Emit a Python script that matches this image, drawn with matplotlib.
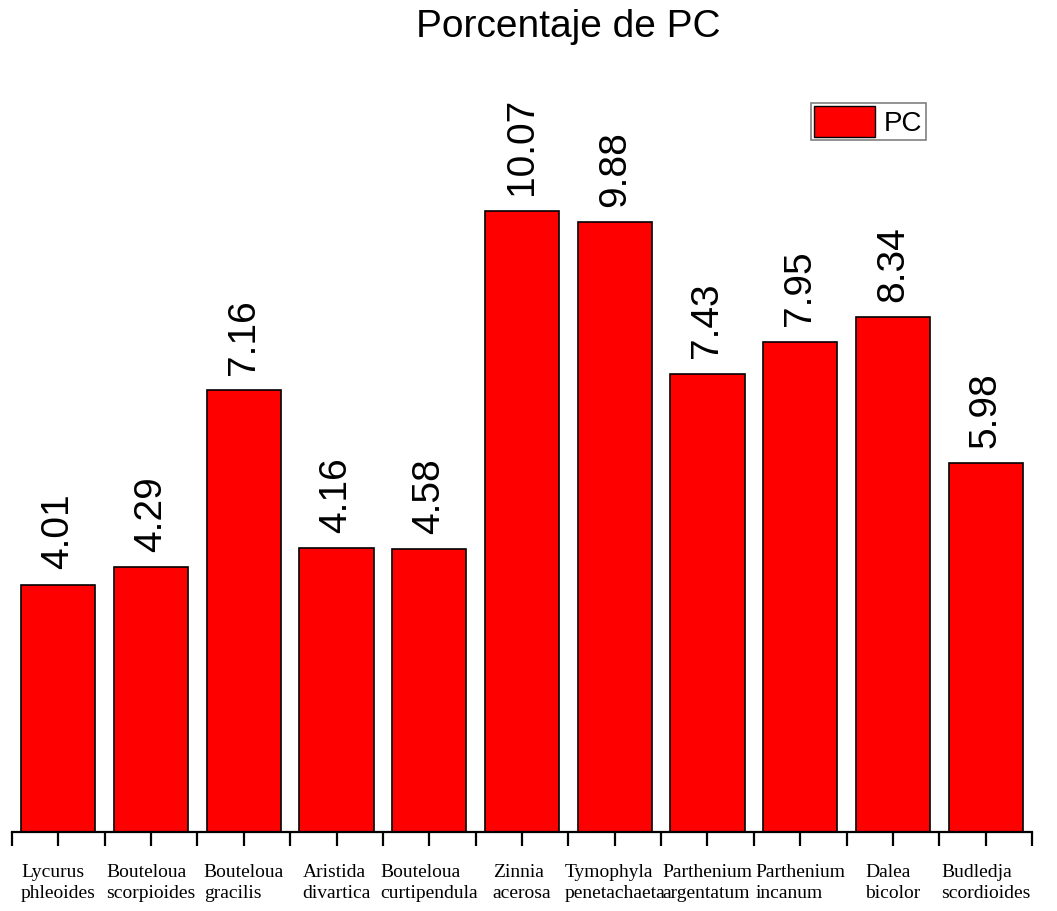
import matplotlib
matplotlib.use("Agg")
import matplotlib.pyplot as plt
from matplotlib.patches import Patch

categories = ["Lycurus\nphleoides", "Bouteloua\nscorpioides", "Bouteloua\ngracilis",
              "Aristida\ndivartica", "Bouteloua\ncurtipendula", "Zinnia\nacerosa",
              "Tymophyla\npenetachaeta", "Parthenium\nargentatum", "Parthenium\nincanum",
              "Dalea\nbicolor", "Budledja\nscordioides"]
bar_heights = [4.01, 4.29, 7.16, 4.60, 4.58, 10.07, 9.88, 7.43, 7.95, 8.34, 5.98]
value_labels = ["4.01", "4.29", "7.16", "4.16", "4.58", "10.07", "9.88", "7.43", "7.95", "8.34", "5.98"]

W, H = 1057, 911
fig = plt.figure(figsize=(W / 100, H / 100), dpi=100)
ax = fig.add_axes([12 / W, (H - 832) / H, (1032 - 12) / W, (832 - 30) / H])

x = list(range(len(categories)))
ax.bar(x, bar_heights, width=0.8, color="#ff0000", edgecolor="black", linewidth=1.2, label="PC", zorder=2)

ax.set_xlim(-0.5, len(categories) - 0.5)
ax.set_ylim(0, 13.0)
for s in ["top", "right", "left"]:
    ax.spines[s].set_visible(False)
ax.spines["bottom"].set_linewidth(1.6)
ax.set_yticks([])

ax.set_xticks(x)
ax.set_xticklabels(categories, family="Liberation Serif", fontsize=14, multialignment="left", linespacing=1.3)
ax.set_xticks([i - 0.5 for i in range(len(categories) + 1)], minor=True)
ax.tick_params(axis="x", which="both", direction="out", length=10, width=1.6, pad=13)

for xi, h, lab in zip(x, bar_heights, value_labels):
    ax.annotate(lab, (xi, h), xytext=(0, 11), textcoords="offset points",
                rotation=90, ha="center", va="bottom", fontsize=28, family="Liberation Sans")

fig.text(568 / W, 1 - 27 / H, "Porcentaje de PC", ha="center", va="center", fontsize=28, family="Liberation Sans")

leg = ax.legend(handles=[Patch(facecolor="#ff0000", edgecolor="black", label="PC")],
                loc="upper left", bbox_to_anchor=(811 / W, 1 - 103 / H), bbox_transform=fig.transFigure,
                prop={"family": "Liberation Sans", "size": 20}, fancybox=False, framealpha=1,
                edgecolor="#808080", handlelength=2.2, handleheight=1.3, handletextpad=0.3,
                borderpad=0.12, borderaxespad=0)
leg.get_frame().set_linewidth(1.2)

fig.savefig("out.png", dpi=100)
